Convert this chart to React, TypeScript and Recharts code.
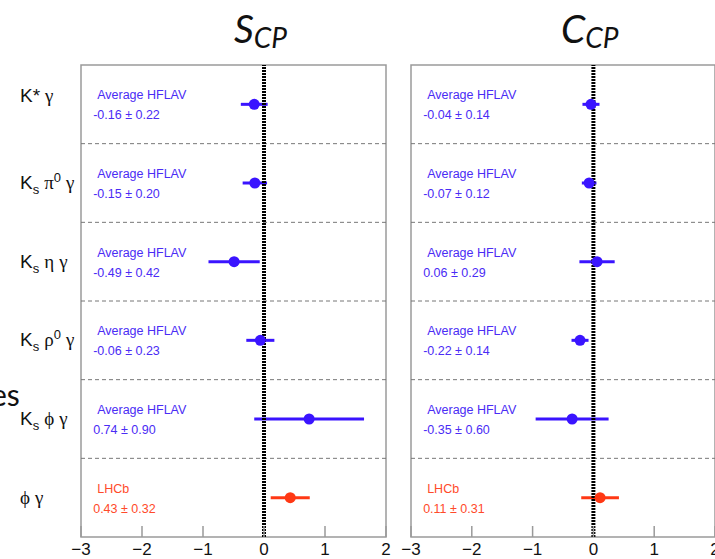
import React from 'react';
import {
  ScatterChart,
  Scatter,
  XAxis,
  YAxis,
  ErrorBar,
  ReferenceLine,
  ReferenceArea,
} from 'recharts';

// Decay channels, top to bottom
const channelMain = ['K*', 'K', 'K', 'K', 'K', ''];
const channelSub = ['', 's', 's', 's', 's', ''];
const channelMid = ['', 'π', 'η', 'ρ', 'ϕ', 'ϕ'];
const channelSup = ['', '0', '', '0', '', ''];

const sources = ['Average HFLAV', 'Average HFLAV', 'Average HFLAV', 'Average HFLAV', 'Average HFLAV', 'LHCb'];

const sValues = [-0.16, -0.15, -0.49, -0.06, 0.74, 0.43];
const sErrors = [0.22, 0.2, 0.42, 0.23, 0.9, 0.32];
const cValues = [-0.04, -0.07, 0.06, -0.22, -0.35, 0.11];
const cErrors = [0.14, 0.12, 0.29, 0.14, 0.6, 0.31];

const xTicks = [-3, -2, -1, 0, 1, 2];
const rowSeparators = [1, 2, 3, 4, 5];
const labelX = -2.8;

const BLUE = '#3a14ff';
const BLUE_TEXT = '#4a2cf5';
const RED = '#ff3814';
const RED_TEXT = '#ff4a2a';
const FRAME = '#9a9a9a';

const rowY = (i: number) => 5.5 - i;

function buildRows(values: number[], errors: number[]) {
  return values.map((v, i) => ({
    x: v,
    y: rowY(i),
    err: errors[i],
    source: sources[i],
    text: `${v.toFixed(2)} ± ${errors[i].toFixed(2)}`,
  }));
}

const Dot = (color: string) => (props: any) => (
  <circle cx={props.cx} cy={props.cy} r={5.5} fill={color} />
);

const RowText = (props: any) => {
  const p = props.payload;
  const color = p.source === 'LHCb' ? RED_TEXT : BLUE_TEXT;
  return (
    <g fontFamily="'Liberation Sans', Arial, sans-serif" fontSize={12.5} fill={color}>
      <text x={props.cx + 4} y={props.cy - 5}>{p.source}</text>
      <text x={props.cx} y={props.cy + 15}>{p.text}</text>
    </g>
  );
};

const XTick = (props: any) => {
  const { x, y, payload } = props;
  const v = payload.value as number;
  return (
    <g>
      <line x1={x} x2={x} y1={y - 11} y2={y} stroke={FRAME} strokeWidth={1.5} />
      <text
        x={x}
        y={y + 18}
        textAnchor="middle"
        fontFamily="'Liberation Sans', Arial, sans-serif"
        fontSize={17}
        fill="#111"
      >
        {v < 0 ? `\u2212${Math.abs(v)}` : v}
      </text>
    </g>
  );
};

const YTick = (props: any) => {
  const { x, y, payload } = props;
  const i = Math.round(5.5 - payload.value);
  const greek = "'Liberation Serif', 'DejaVu Serif', serif";
  return (
    <text
      x={x - 61}
      y={y + (i === 0 ? -2 : 6)}
      fontFamily="'Liberation Sans', Arial, sans-serif"
      fontSize={19}
      fill="#111"
    >
      {channelMain[i]}
      {channelSub[i] && (
        <tspan fontSize={13} dy={5}>
          {channelSub[i]}
        </tspan>
      )}
      {channelMid[i] && (
        <tspan fontFamily={greek} dy={channelSub[i] ? -5 : 0} dx={channelMain[i] ? 5 : 0}>
          {channelMid[i]}
        </tspan>
      )}
      {channelSup[i] && (
        <tspan fontSize={13} dy={-7}>
          {channelSup[i]}
        </tspan>
      )}
      <tspan fontFamily={greek} dy={channelSup[i] ? 7 : 0} dx={5}>
        γ
      </tspan>
    </text>
  );
};

function Panel({
  values,
  errors,
  width,
  left,
  showLabels,
}: {
  values: number[];
  errors: number[];
  width: number;
  left: number;
  showLabels: boolean;
}) {
  const rows = buildRows(values, errors);
  const blueRows = rows.filter((r) => r.source !== 'LHCb');
  const redRows = rows.filter((r) => r.source === 'LHCb');
  const textRows = rows.map((r) => ({ ...r, x: labelX }));

  return (
    <ScatterChart
      width={width}
      height={559}
      margin={{ top: 65, right: showLabels ? 14 : 15, bottom: 0, left }}
    >
      <XAxis
        type="number"
        dataKey="x"
        domain={[-3, 2]}
        ticks={xTicks}
        allowDataOverflow
        axisLine={false}
        tickLine={false}
        tickSize={0}
        tickMargin={0}
        height={22}
        tick={<XTick />}
        interval={0}
      />
      <YAxis
        type="number"
        dataKey="y"
        domain={[0, 6]}
        ticks={[5.5, 4.5, 3.5, 2.5, 1.5, 0.5]}
        axisLine={false}
        tickLine={false}
        tickSize={0}
        tickMargin={0}
        width={showLabels ? 81 : 0}
        hide={!showLabels}
        tick={<YTick />}
        interval={0}
      />
      <ReferenceArea x1={-3} x2={2} y1={0} y2={6} fill="none" stroke={FRAME} strokeWidth={1.5} />
      {rowSeparators.map((y) => (
        <ReferenceLine key={y} y={y} stroke="#777" strokeWidth={1} strokeDasharray="4 3" />
      ))}
      <Scatter data={textRows} shape={RowText} isAnimationActive={false} />
      <Scatter data={blueRows} shape={Dot(BLUE)} isAnimationActive={false}>
        <ErrorBar dataKey="err" direction="x" width={0} stroke={BLUE} strokeWidth={3} />
      </Scatter>
      <Scatter data={redRows} shape={Dot(RED)} isAnimationActive={false}>
        <ErrorBar dataKey="err" direction="x" width={0} stroke={RED} strokeWidth={3} />
      </Scatter>
      <ReferenceLine x={0} stroke="#000" strokeWidth={4} strokeDasharray="2 1" />
    </ScatterChart>
  );
}

export default function App() {
  const title = "Lato, 'Open Sans', sans-serif";
  return (
    <div
      style={{
        position: 'absolute',
        left: 0,
        top: 0,
        width: 715,
        height: 559,
        overflow: 'hidden',
        background: '#fff',
      }}
    >
      <div style={{ position: 'absolute', left: 0, top: 0 }}>
        <Panel values={sValues} errors={sErrors} width={400} left={0} showLabels />
      </div>
      <div style={{ position: 'absolute', left: 400, top: 0 }}>
        <Panel values={cValues} errors={cErrors} width={330} left={11} showLabels={false} />
      </div>
      <svg
        width={715}
        height={559}
        style={{ position: 'absolute', left: 0, top: 0, pointerEvents: 'none' }}
      >
        <text x={234} y={43} fontFamily={title} fontStyle="italic" fontSize={39} fill="#111">
          S
          <tspan fontSize={28} dy={5}>
            CP
          </tspan>
        </text>
        <text x={561} y={43} fontFamily={title} fontStyle="italic" fontSize={39} fill="#111">
          C
          <tspan fontSize={28} dy={5}>
            CP
          </tspan>
        </text>
        <text x={-9} y={406} fontFamily={title} fontSize={30} fill="#111">
          es
        </text>
      </svg>
    </div>
  );
}
